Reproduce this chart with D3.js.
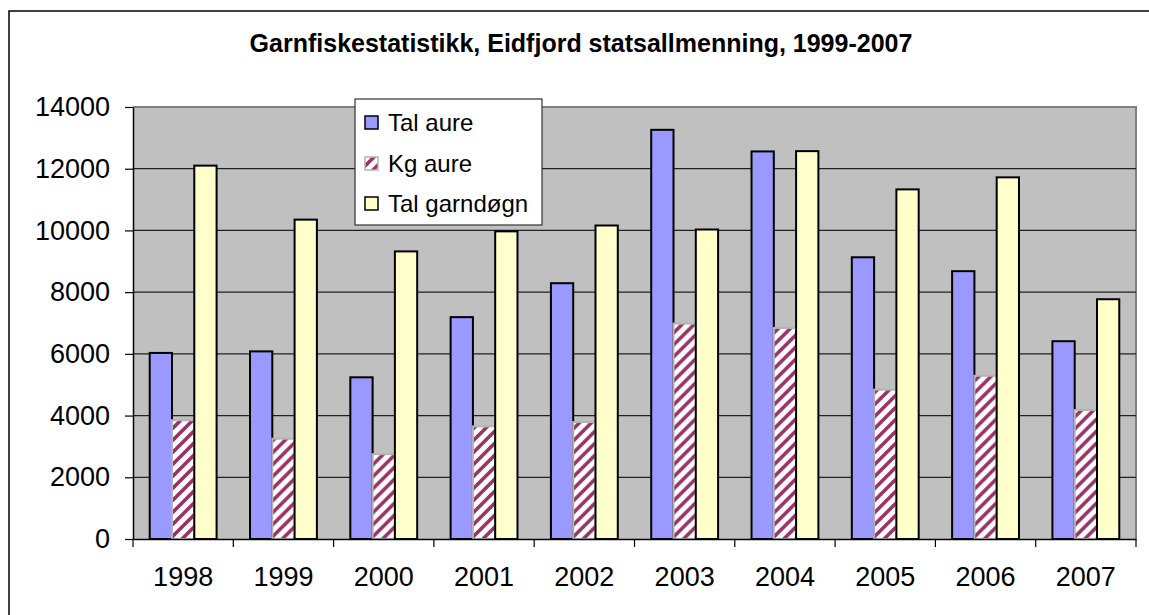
<!DOCTYPE html>
<html>
<head>
<meta charset="utf-8">
<script src="https://cdn.jsdelivr.net/npm/d3@7"></script>
<style>
  body { margin: 0; background: #fff; }
  text { font-family: "Liberation Sans", Arial, sans-serif; }
</style>
</head>
<body>
<div id="chart"></div>
<script>
// data
var years = ["1998", "1999", "2000", "2001", "2002", "2003", "2004", "2005", "2006", "2007"];
var talAure = [6030, 6080, 5240, 7190, 8290, 13260, 12560, 9130, 8680, 6410];
var kgAure = [3850, 3250, 2750, 3650, 3790, 6980, 6840, 4840, 5290, 4180];
var talGarndogn = [12100, 10350, 9320, 9970, 10160, 10030, 12570, 11330, 11720, 7770];
var yTicks = [0, 2000, 4000, 6000, 8000, 10000, 12000, 14000];
var seriesNames = ["Tal aure", "Kg aure", "Tal garndøgn"];

var width = 1149, height = 615;
var margin = { top: 107, right: 13, bottom: 76, left: 133 };

var svg = d3.select("#chart").append("svg")
  .attr("width", width)
  .attr("height", height);

// hatch pattern for Kg aure
var defs = svg.append("defs");
var pat = defs.append("pattern")
  .attr("id", "hatch")
  .attr("patternUnits", "userSpaceOnUse")
  .attr("width", 12).attr("height", 12);
pat.append("rect").attr("width", 12).attr("height", 12).attr("fill", "#fff");
pat.append("path")
  .attr("d", "M-3,3 L3,-3 M0,12 L12,0 M9,15 L15,9")
  .attr("stroke", "#993366").attr("stroke-width", 3.6);

// outer frame
svg.append("path")
  .attr("d", "M9,615 V11 H1149")
  .attr("fill", "none")
  .attr("stroke", "#000")
  .attr("stroke-width", 1.5);

// title
svg.append("text")
  .attr("x", 581).attr("y", 52)
  .attr("text-anchor", "middle")
  .style("font-size", "25px").style("font-weight", "bold")
  .text("Garnfiskestatistikk, Eidfjord statsallmenning, 1999-2007");

var x = d3.scaleBand().domain(years).range([margin.left, width - margin.right]);
var bw = x.bandwidth();
var barW = bw / 4.5;
var xs = d3.scaleBand().domain(seriesNames).range([barW * 0.75, barW * 3.75]);
var y = d3.scaleLinear().domain([0, 14000]).range([height - margin.bottom, margin.top]);

// plot area
svg.append("rect")
  .attr("x", margin.left).attr("y", y(14000))
  .attr("width", width - margin.right - margin.left)
  .attr("height", y(0) - y(14000))
  .attr("fill", "#c0c0c0");

svg.append("path")
  .attr("d", "M" + margin.left + "," + y(14000) + " H" + (width - margin.right) + " V" + y(0))
  .attr("fill", "none").attr("stroke", "#808080").attr("stroke-width", 2);

// gridlines
svg.selectAll(".grid")
  .data(yTicks.filter(function(d) { return d > 0 && d < 14000; }))
  .enter().append("line")
  .attr("class", "grid")
  .attr("x1", margin.left).attr("x2", width - margin.right)
  .attr("y1", function(d) { return y(d); })
  .attr("y2", function(d) { return y(d); })
  .attr("stroke", "#222").attr("stroke-width", 1.2);

// bars
var groups = svg.selectAll(".year")
  .data(years)
  .enter().append("g")
  .attr("class", "year")
  .attr("transform", function(d) { return "translate(" + x(d) + ",0)"; });

groups.append("rect")
  .attr("x", xs("Tal aure"))
  .attr("y", function(d, i) { return y(talAure[i]); })
  .attr("width", xs.bandwidth())
  .attr("height", function(d, i) { return y(0) - y(talAure[i]); })
  .attr("fill", "#9999ff").attr("stroke", "#000").attr("stroke-width", 2);

groups.append("rect")
  .attr("x", xs("Kg aure"))
  .attr("y", function(d, i) { return y(kgAure[i]); })
  .attr("width", xs.bandwidth())
  .attr("height", function(d, i) { return y(0) - y(kgAure[i]); })
  .attr("fill", "url(#hatch)").attr("stroke", "#b4b4b4").attr("stroke-width", 2);

groups.append("rect")
  .attr("x", xs("Tal garndøgn"))
  .attr("y", function(d, i) { return y(talGarndogn[i]); })
  .attr("width", xs.bandwidth())
  .attr("height", function(d, i) { return y(0) - y(talGarndogn[i]); })
  .attr("fill", "#ffffcc").attr("stroke", "#000").attr("stroke-width", 2);

// y axis
var yAxis = svg.append("g")
  .attr("transform", "translate(" + margin.left + ",0)")
  .call(d3.axisLeft(y).tickValues(yTicks).tickFormat(d3.format("d"))
    .tickSize(8).tickPadding(15).tickSizeOuter(0));
yAxis.select(".domain").attr("stroke", "#000").attr("stroke-width", 1.5);
yAxis.selectAll(".tick line").attr("stroke", "#000").attr("stroke-width", 1.2);
yAxis.selectAll("text")
  .style("font-size", "27px").style("font-family", "'Liberation Sans', Arial, sans-serif")
  .attr("fill", "#000");

// x axis
var xAxis = svg.append("g")
  .attr("transform", "translate(0," + y(0) + ")")
  .call(d3.axisBottom(x).tickSize(0).tickPadding(28).tickSizeOuter(0));
xAxis.select(".domain").attr("stroke", "#000").attr("stroke-width", 1.5);
xAxis.selectAll("text")
  .style("font-size", "27px").style("font-family", "'Liberation Sans', Arial, sans-serif")
  .attr("fill", "#000");
xAxis.selectAll(".boundary")
  .data(years.map(function(d) { return x(d); }).concat([x.range()[1]]))
  .enter().append("line")
  .attr("class", "boundary")
  .attr("x1", function(d) { return d; }).attr("x2", function(d) { return d; })
  .attr("y1", 0).attr("y2", 8)
  .attr("stroke", "#000").attr("stroke-width", 1.2);

// legend
var legend = svg.append("g").attr("transform", "translate(355,99)");
legend.append("rect")
  .attr("width", 187).attr("height", 126)
  .attr("fill", "#fff").attr("stroke", "#333").attr("stroke-width", 1.2);
var swFill = ["#9999ff", "url(#hatch)", "#ffffcc"];
var swStroke = ["#000", "#b4b4b4", "#000"];
var items = legend.selectAll(".item")
  .data(seriesNames)
  .enter().append("g")
  .attr("class", "item")
  .attr("transform", function(d, i) { return "translate(0," + [24, 65, 105][i] + ")"; });
items.append("rect")
  .attr("x", 10).attr("y", -7)
  .attr("width", 13).attr("height", 13)
  .attr("fill", function(d, i) { return swFill[i]; })
  .attr("stroke", function(d, i) { return swStroke[i]; })
  .attr("stroke-width", 1.5);
items.append("text")
  .attr("x", 33).attr("y", 0).attr("dy", "0.35em")
  .style("font-size", "24px")
  .text(function(d) { return d; });
</script>
</body>
</html>
